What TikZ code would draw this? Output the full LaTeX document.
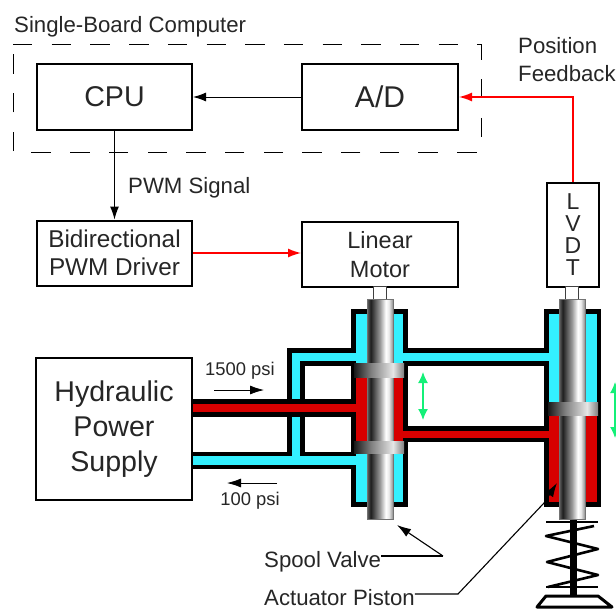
\documentclass[tikz,border=0pt]{standalone}
\usepackage{fontspec}
\setmainfont{Liberation Sans}
\usetikzlibrary{arrows.meta, calc}

\pgfdeclarehorizontalshading{rodshade}{100bp}{
  color(0bp)=(black!60); color(25bp)=(black!60); color(32bp)=(black!88);
  color(50bp)=(black!40); color(61bp)=(white); color(67bp)=(black!8); color(75bp)=(black!45); color(100bp)=(black!45)}
\pgfdeclarehorizontalshading{landshade}{100bp}{
  color(0bp)=(black!90); color(25bp)=(black!90); color(42bp)=(black!50);
  color(64bp)=(black!10); color(75bp)=(black!50); color(100bp)=(black!50)}

\definecolor{oilblue}{RGB}{51,240,255}
\definecolor{oilred}{RGB}{215,0,0}
\definecolor{travelgreen}{RGB}{20,240,120}
\definecolor{fbred}{RGB}{255,0,0}

\begin{document}
\begin{tikzpicture}[
    x=1pt, y=-1pt,
    blockbox/.style ={draw=black, line width=2pt, fill=white, inner sep=0pt, text=black!85, align=center},
    bigbox/.style   ={blockbox, font=\fontsize{28.6}{35}\selectfont},
    midbox/.style   ={blockbox, font=\fontsize{23.5}{28.5}\selectfont},
    smalltext/.style={font=\fontsize{22.2}{28}\selectfont, text=black!85, inner sep=0pt, align=left},
    psitext/.style  ={font=\fontsize{18.4}{20}\selectfont, text=black!85, inner sep=0pt},
    sigline/.style  ={-{Latex[length=13pt, width=9pt]}, line width=1pt, black},
    fbline/.style   ={-{Latex[length=13pt, width=9pt]}, line width=1.4pt, fbred},
    flowvec/.style  ={-{Latex[length=14pt, width=9pt]}, line width=0.8pt, black},
    leader/.style   ={line width=1.1pt, black},
    travelvec/.style={{Latex[length=11pt, width=10pt]}-{Latex[length=11pt, width=10pt]}, line width=1.4pt, travelgreen},
    rodpart/.style  ={draw=black!55, line width=0.6pt, shading=rodshade},
    landpart/.style ={shading=landshade},
    stempart/.style ={draw=black!75, line width=0.8pt, fill=white}
]
\useasboundingbox (0,0) rectangle (616,610);

% ---------- single-board computer ----------
\draw[line width=0.9pt, dash pattern=on 19.4pt off 19.3pt] (13,44) -- (481,44) -- (481,152) -- (13,152) -- cycle;
\node[smalltext, anchor=west] (sbclabel) at (14,27) {Single-Board Computer};
\node[bigbox, minimum width=155pt, minimum height=65pt] (cpu) at (114.5,97) {\raisebox{-2pt}{CPU}};
\node[bigbox, minimum width=156pt, minimum height=65pt, font=\fontsize{30}{35}\selectfont] (adc) at (380,97) {A/D};

% ---------- driver, motor, transducer ----------
\node[midbox, minimum width=155pt, minimum height=65pt, font=\fontsize{24.3}{28}\selectfont] (driver) at (114.5,253) {Bidirectional\\PWM Driver};
\node[midbox, minimum width=156pt, minimum height=65pt] (motor) at (380,254.5) {Linear\\Motor};
\node[midbox, minimum width=52pt, minimum height=104pt, font=\fontsize{23}{22}\selectfont] (lvdt) at (573,235) {L\\V\\D\\T};
\node[bigbox, minimum width=156pt, minimum height=142pt] (supply) at (114,429) {Hydraulic\\Power\\Supply};

% ---------- signal paths ----------
\draw[sigline] (adc) -- (cpu);
\draw[sigline] (cpu) -- (driver);
\draw[fbline] (driver.east) -- (driver.east -| motor.west);
\draw[fbline] (lvdt.north) |- (adc.east);
\node[smalltext, anchor=west] (pwmlabel) at (128,188) {PWM Signal};
\node[smalltext, anchor=west] (fblabel) at (518,60) {Position\\Feedback};

% ---------- black walls ----------
\fill[black] (351,309) rectangle (408,507);
\fill[black] (544,309) rectangle (601,507);
\fill[black] (287,348) rectangle (544,366);
\fill[black] (287,348) rectangle (305,469);
\fill[black] (192,452) rectangle (351,469);
\fill[black] (408,426) rectangle (544,442);

% ---------- low pressure oil ----------
\fill[oilblue] (356,314) rectangle (403,363);
\fill[oilblue] (356,453) rectangle (403,502);
\fill[oilblue] (292,353) rectangle (549,361);
\fill[oilblue] (292,353) rectangle (300,460);
\fill[oilblue] (193,456) rectangle (356,465);
\fill[oilblue] (549,314) rectangle (597,402);

% ---------- high pressure oil ----------
\fill[black] (193,399) rectangle (351,417);
\fill[oilred] (356,377) rectangle (403,441);
\fill[oilred] (193,404) rectangle (356,412);
\fill[oilred] (403,431) rectangle (549,438);
\fill[oilred] (549,415) rectangle (597,502);

% ---------- spring and foot under the piston ----------
\draw[line width=7pt] (573,519) -- (573,596);
\draw[line width=2.6pt] (546,522) -- (598,522);
\draw[line width=2.6pt, line join=round] (594,526) -- (546,536) -- (598,549) -- (547,562) -- (598,575) -- (548,587);
\draw[line width=2.6pt] (546,587) -- (598,587);
\draw[line width=3pt, line join=round] (546,596) -- (598,596) -- (612,607) -- (537,607) -- cycle;

% ---------- stems, rods and lands ----------
\foreach \rodX in {380,572}{
  \draw[stempart] ({\rodX-6.5},286) rectangle ({\rodX+6.5},299);
  \path[rodpart] ({\rodX-13},299) rectangle ({\rodX+13},519);
}
\path[landpart] (354,363) rectangle (404,377);
\path[landpart] (354,441) rectangle (404,453);
\path[landpart] (548,402) rectangle (598,415);

% ---------- pressures ----------
\node[psitext] (highlabel) at (240,371) {1500 psi};
\node[psitext] (lowlabel) at (250,501) {100 psi};
\coordinate (highfrom) at (214,390);
\coordinate (highto) at (264,390);
\coordinate (lowfrom) at (277,483);
\coordinate (lowto) at (227,483);
\draw[flowvec] (highfrom) -- (highto);
\draw[flowvec] (lowfrom) -- (lowto);

% ---------- travel of spool and piston ----------
\coordinate (spooltop) at (423,372);
\coordinate (spoolbot) at (423,420);
\coordinate (pistontop) at (615,382);
\coordinate (pistonbot) at (615,438);
\draw[travelvec] (spooltop) -- (spoolbot);
\draw[travelvec] (pistontop) -- (pistonbot);

% ---------- callouts ----------
\node[smalltext, anchor=west] (spoollabel) at (264,562) {Spool Valve};
\node[smalltext, anchor=base west] (pistonlabel) at (264,605.5) {Actuator Piston};
\coordinate (spoolknee) at (443,556);
\coordinate (spooltip) at (397,525);
\coordinate (pistonknee) at (458,594);
\coordinate (pistonbend) at (544,503);
\coordinate (pistontip) at (557,483);
\draw[leader] (spoollabel.east |- spoolknee) -- (spoolknee);
\draw[leader, -{Latex[length=14pt, width=9pt]}] (spoolknee) -- (spooltip);
\draw[leader] (pistonlabel.east |- pistonknee) -- (pistonknee) -- (pistonbend);
\draw[leader, -{Latex[length=14pt, width=9pt]}] (pistonbend) -- (pistontip);

\end{tikzpicture}
\end{document}
